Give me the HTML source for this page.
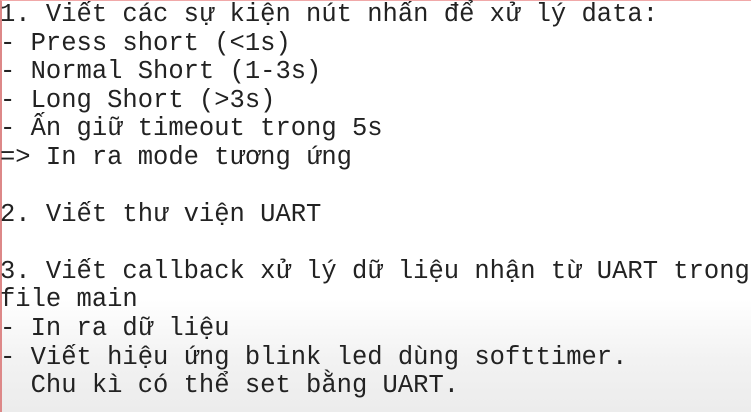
<!DOCTYPE html>
<html><head><meta charset="utf-8"><style>
html,body{margin:0;padding:0}
body{width:751px;height:412px;overflow:hidden;position:relative;
background:linear-gradient(to bottom,#fff 0px,#fff 300px,#f2f2f2 360px,#ececec 412px);}
.b{position:absolute;left:0;top:0;width:749px;height:411px;border-top:1px solid #f0a8a8;border-left:2px solid #d88;border-right:1px solid #f4c0c0;}
pre{position:absolute;left:0;top:1px;margin:0;font-family:"Liberation Mono","Courier New",monospace;
font-size:25.5px;line-height:28.55px;color:#222;white-space:pre}
</style></head><body><div class="b"></div><pre>1. Viết các sự kiện nút nhấn để xử lý data:
- Press short (&lt;1s)
- Normal Short (1-3s)
- Long Short (&gt;3s)
- Ấn giữ timeout trong 5s
=&gt; In ra mode tương ứng

2. Viết thư viện UART

3. Viết callback xử lý dữ liệu nhận từ UART trong
file main
- In ra dữ liệu
- Viết hiệu ứng blink led dùng softtimer.
  Chu kì có thể set bằng UART.</pre></body></html>
